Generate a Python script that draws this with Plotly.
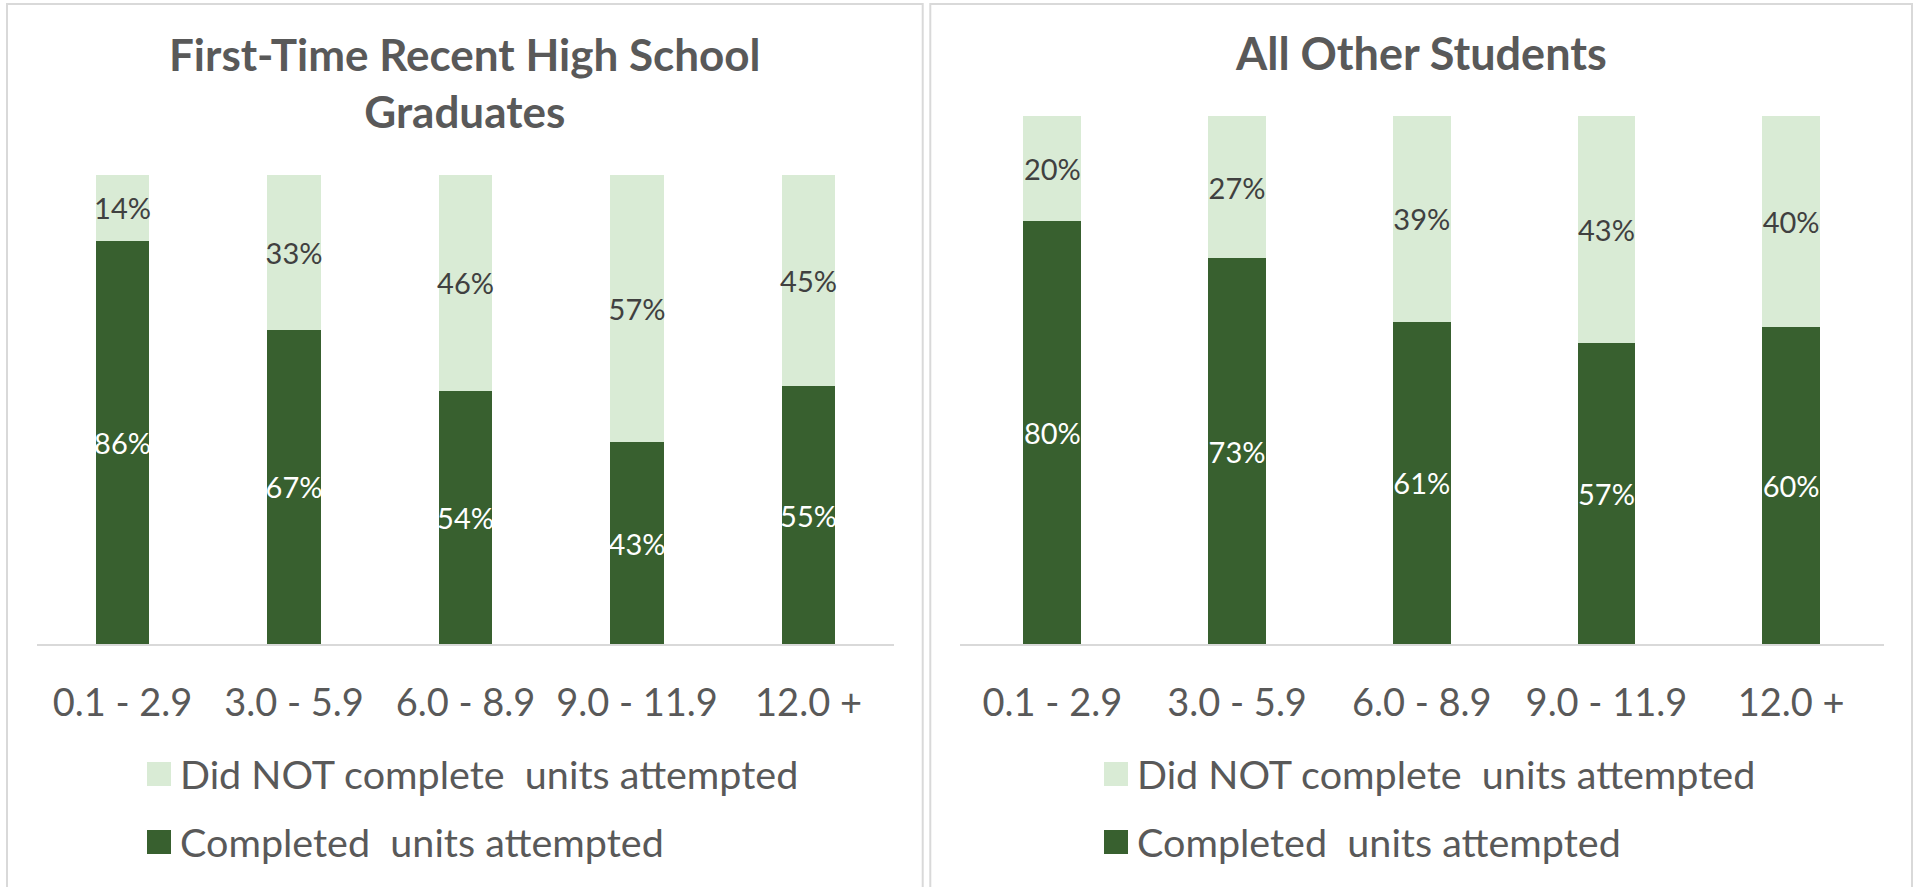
import plotly.graph_objects as go

# ---- data -------------------------------------------------------------
unit_bands = ["0.1 - 2.9", "3.0 - 5.9", "6.0 - 8.9", "9.0 - 11.9", "12.0 +"]

series_names = ["Did NOT complete  units attempted", "Completed  units attempted"]

# First-Time Recent High School Graduates (% of students)
fthsg_completed = [86, 67, 54, 43, 55]
fthsg_not_completed = [14, 33, 46, 57, 45]

# All Other Students (% of students)
other_completed = [80, 73, 61, 57, 60]
other_not_completed = [20, 27, 39, 43, 40]

panel_titles = ["First-Time Recent High School<br>Graduates", "All Other Students"]

# ---- styling ----------------------------------------------------------
W, H = 1921, 887
DARK = "#38602F"
LIGHT = "#D9EBD5"
GREY_TEXT = "#595959"
LABEL_DARK = "#404040"
RULE = "#D9D9D9"
FONT = "Lato"


def px_x(x):
    return x / W


def px_y(y):
    return 1 - y / H


fig = go.Figure()

panels = [
    (fthsg_completed, fthsg_not_completed, "x", "y"),
    (other_completed, other_not_completed, "x2", "y2"),
]

for completed, not_completed, xa, ya in panels:
    fig.add_trace(go.Bar(
        x=unit_bands, y=completed, name=series_names[1],
        marker=dict(color=DARK, line=dict(width=0)),
        texttemplate="%{y}%", textposition="inside", insidetextanchor="middle",
        textangle=0, constraintext="none",
        textfont=dict(family=FONT, size=29, color="#FFFFFF"),
        xaxis=xa, yaxis=ya, showlegend=False, hoverinfo="skip",
    ))
    fig.add_trace(go.Bar(
        x=unit_bands, y=not_completed, name=series_names[0],
        marker=dict(color=LIGHT, line=dict(width=0)),
        texttemplate="%{y}%", textposition="inside", insidetextanchor="middle",
        textangle=0, constraintext="none",
        textfont=dict(family=FONT, size=29, color=LABEL_DARK),
        xaxis=xa, yaxis=ya, showlegend=False, hoverinfo="skip",
    ))

xaxis_common = dict(
    type="category", range=[-0.5, 4.5], showgrid=False, zeroline=False,
    showline=True, linecolor=RULE, linewidth=2,
    ticks="", ticklabelstandoff=24,
    tickfont=dict(family=FONT, size=38, color=GREY_TEXT),
    fixedrange=True,
)
yaxis_common = dict(
    range=[0, 100], showgrid=False, zeroline=False, showline=False,
    showticklabels=False, ticks="", fixedrange=True,
)

fig.update_layout(
    width=W, height=H,
    margin=dict(l=0, r=0, t=0, b=0),
    paper_bgcolor="white", plot_bgcolor="white",
    barmode="stack", bargap=0.6875,
    showlegend=False,
    xaxis=dict(domain=[px_x(36.75), px_x(894.25)], anchor="y", **xaxis_common),
    yaxis=dict(domain=[px_y(644), px_y(175)], anchor="x", **yaxis_common),
    xaxis2=dict(domain=[px_x(960), px_x(1883.5)], anchor="y2", **xaxis_common),
    yaxis2=dict(domain=[px_y(644), px_y(115.7)], anchor="x2", **yaxis_common),
)

# panel frames (open at the bottom edge of the page)
shapes = []
for x0, x1 in [(7, 922.7), (930.3, 1912)]:
    shapes.append(dict(
        type="rect", xref="paper", yref="paper",
        x0=px_x(x0), x1=px_x(x1), y0=-0.05, y1=px_y(4),
        line=dict(color=RULE, width=2), fillcolor="rgba(0,0,0,0)", layer="below",
    ))

# panel titles
annotations = []
for title, cx, cy, fs in [(panel_titles[0], 465, 82, 44), (panel_titles[1], 1421, 53, 45)]:
    annotations.append(dict(
        text=f"<b>{title}</b>", xref="paper", yref="paper",
        x=px_x(cx), y=px_y(cy), xanchor="center", yanchor="middle",
        showarrow=False, font=dict(family=FONT, size=fs, color=GREY_TEXT),
    ))

# legends, one per panel
legend_rows = [(series_names[0], LIGHT, 774), (series_names[1], DARK, 842)]
for sq_left in [147, 1104]:
    for name, color, cy in legend_rows:
        shapes.append(dict(
            type="rect", xref="paper", yref="paper",
            x0=px_x(sq_left), x1=px_x(sq_left + 24),
            y0=px_y(cy + 12), y1=px_y(cy - 12),
            line=dict(width=0), fillcolor=color,
        ))
        annotations.append(dict(
            text=name, xref="paper", yref="paper",
            x=px_x(sq_left + 31), y=px_y(cy - 1), xanchor="left", yanchor="middle",
            showarrow=False, font=dict(family=FONT, size=39.5, color=GREY_TEXT),
        ))

fig.update_layout(shapes=shapes, annotations=annotations)

fig.write_html("out.html")
